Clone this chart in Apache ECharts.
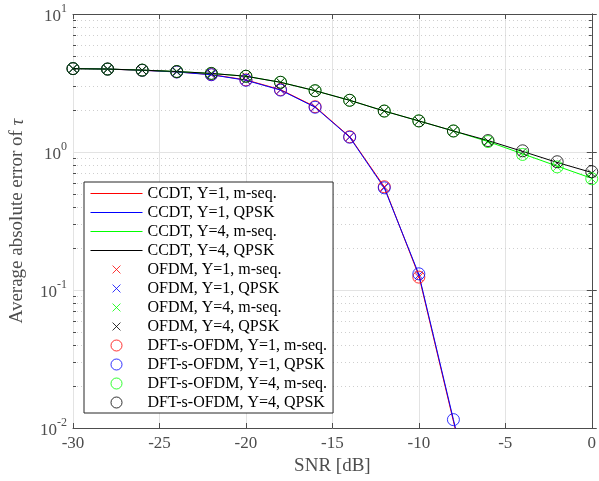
<!DOCTYPE html>
<html>
<head>
<meta charset="utf-8">
<script src="https://cdn.jsdelivr.net/npm/echarts@6/dist/echarts.min.js"></script>
<style>
  html, body { margin: 0; padding: 0; background: #fff; }
  #chart { width: 599px; height: 481px; }
</style>
</head>
<body>
<div id="chart"></div>
<script>
  // SNR points (dB)
  var snr = [-30, -28, -26, -24, -22, -20, -18, -16, -14, -12, -10, -8, -6, -4, -2, 0];

  // CCDT curves (lines)
  var ccdtY1Mseq = [4.02, 3.99, 3.91, 3.81, 3.64, 3.33, 2.83, 2.13, 1.29, 0.56, 0.127, 0.0112, 0.001, null, null, null];
  var ccdtY1Qpsk = [4.02, 3.99, 3.91, 3.80, 3.63, 3.31, 2.81, 2.11, 1.28, 0.55, 0.130, 0.0115, 0.001, null, null, null];
  var ccdtY4Mseq = [4.02, 3.99, 3.92, 3.83, 3.71, 3.54, 3.20, 2.78, 2.37, 1.98, 1.68, 1.42, 1.19, 0.97, 0.79, 0.645];
  var ccdtY4Qpsk = [4.02, 3.99, 3.92, 3.83, 3.71, 3.54, 3.20, 2.78, 2.37, 1.98, 1.68, 1.42, 1.21, 1.01, 0.84, 0.71];

  // OFDM (x markers)
  var ofdmY1Mseq = [4.02, 3.99, 3.91, 3.81, 3.64, 3.33, 2.83, 2.13, 1.29, 0.56, 0.124, null, null, null, null, null];
  var ofdmY1Qpsk = [4.02, 3.99, 3.91, 3.80, 3.63, 3.31, 2.81, 2.11, 1.28, 0.55, 0.128, null, null, null, null, null];
  var ofdmY4Mseq = [4.02, 3.99, 3.92, 3.83, 3.71, 3.54, 3.20, 2.78, 2.37, 1.98, 1.68, 1.42, 1.18, 0.95, 0.78, 0.64];
  var ofdmY4Qpsk = [4.02, 3.99, 3.92, 3.83, 3.71, 3.54, 3.20, 2.78, 2.37, 1.98, 1.68, 1.42, 1.20, 1.00, 0.83, 0.70];

  // DFT-s-OFDM (circle markers)
  var dftY1Mseq = [4.02, 3.99, 3.91, 3.81, 3.64, 3.33, 2.83, 2.13, 1.29, 0.56, 0.124, null, null, null, null, null];
  var dftY1Qpsk = [4.02, 3.99, 3.91, 3.80, 3.63, 3.31, 2.81, 2.11, 1.28, 0.55, 0.131, 0.0115, null, null, null, null];
  var dftY4Mseq = [4.02, 3.99, 3.92, 3.83, 3.71, 3.54, 3.20, 2.78, 2.37, 1.98, 1.68, 1.42, 1.19, 0.96, 0.78, 0.64];
  var dftY4Qpsk = [4.02, 3.99, 3.92, 3.83, 3.71, 3.54, 3.20, 2.78, 2.37, 1.98, 1.68, 1.42, 1.21, 1.02, 0.85, 0.72];

  var legendNames = [
    'CCDT, Y=1, m-seq.', 'CCDT, Y=1, QPSK', 'CCDT, Y=4, m-seq.', 'CCDT, Y=4, QPSK',
    'OFDM, Y=1, m-seq.', 'OFDM, Y=1, QPSK', 'OFDM, Y=4, m-seq.', 'OFDM, Y=4, QPSK',
    'DFT-s-OFDM, Y=1, m-seq.', 'DFT-s-OFDM, Y=1, QPSK', 'DFT-s-OFDM, Y=4, m-seq.', 'DFT-s-OFDM, Y=4, QPSK'
  ];
  var colors = ['#ff0000', '#0000ff', '#00ff00', '#000000'];

  // log minor grid values (2..9 per decade)
  var decades = [0.01, 0.1, 1];
  var minorMult = [2, 3, 4, 5, 6, 7, 8, 9];
  var minorTicks = [];
  decades.forEach(function (d) {
    minorMult.forEach(function (m) { minorTicks.push(+(d * m).toPrecision(3)); });
  });

  var FONT = 'Liberation Serif';
  var AXIS_COLOR = '#4d4d4d';
  var CROSS = 'path://M-2,-2L-2,-2M0,0L10,10M10,0L0,10M12,12L12,12';

  function pairs(arr) {
    return snr.map(function (x, i) { return [x, arr[i]]; });
  }

  function lineSeries(name, arr, c) {
    return {
      name: name, type: 'line', data: pairs(arr), color: c,
      symbol: 'none', showSymbol: false, connectNulls: false, clip: true,
      lineStyle: { color: c, width: 1 },
      // keep the legend icon a bare line
      itemStyle: { color: 'rgba(0,0,0,0)', borderColor: 'rgba(0,0,0,0)', borderWidth: 0 },
      z: 3, animation: false
    };
  }

  function markSeries(name, arr, c, sym, size) {
    return {
      name: name, type: 'scatter', data: pairs(arr).filter(function (p) { return p[1] != null; }),
      symbol: sym, symbolSize: size, clip: true,
      itemStyle: { color: 'none', borderColor: c, borderWidth: 1 }, z: 4, animation: false
    };
  }

  var series = [
    lineSeries(legendNames[0], ccdtY1Mseq, colors[0]),
    lineSeries(legendNames[1], ccdtY1Qpsk, colors[1]),
    lineSeries(legendNames[2], ccdtY4Mseq, colors[2]),
    lineSeries(legendNames[3], ccdtY4Qpsk, colors[3]),
    markSeries(legendNames[4], ofdmY1Mseq, colors[0], CROSS, 11),
    markSeries(legendNames[5], ofdmY1Qpsk, colors[1], CROSS, 11),
    markSeries(legendNames[6], ofdmY4Mseq, colors[2], CROSS, 11),
    markSeries(legendNames[7], ofdmY4Qpsk, colors[3], CROSS, 11),
    markSeries(legendNames[8], dftY1Mseq, colors[0], 'circle', 12),
    markSeries(legendNames[9], dftY1Qpsk, colors[1], 'circle', 12),
    markSeries(legendNames[10], dftY4Mseq, colors[2], 'circle', 12),
    markSeries(legendNames[11], dftY4Qpsk, colors[3], 'circle', 12)
  ];

  // dotted minor grid + small minor ticks on both y sides
  series.push({
    type: 'custom', silent: true, z: 1, animation: false,
    data: minorTicks.map(function (v) { return [-30, v]; }),
    renderItem: function (params, api) {
      var cs = params.coordSys;
      var y = Math.round(api.coord([-30, api.value(1)])[1]) + 0.5;
      return {
        type: 'group',
        children: [
          { type: 'line', shape: { x1: cs.x, y1: y, x2: cs.x + cs.width, y2: y },
            style: { stroke: '#cfcfcf', lineWidth: 1, lineDash: [1, 3] } },
          { type: 'line', shape: { x1: cs.x, y1: y, x2: cs.x + 3, y2: y },
            style: { stroke: AXIS_COLOR, lineWidth: 1 } },
          { type: 'line', shape: { x1: cs.x + cs.width - 3, y1: y, x2: cs.x + cs.width, y2: y },
            style: { stroke: AXIS_COLOR, lineWidth: 1 } }
        ]
      };
    }
  });

  var option = {
    backgroundColor: '#ffffff',
    animation: false,
    textStyle: { fontFamily: FONT },
    grid: { left: 70, right: 2, top: 14, bottom: 53 },
    legend: {
      data: legendNames,
      orient: 'vertical',
      left: 84, top: 182,
      padding: [3.5, 6, 2.5, 6],
      itemWidth: 52, itemHeight: 11, itemGap: 3,
      backgroundColor: '#ffffff',
      borderColor: '#262626', borderWidth: 1,
      itemStyle: { borderWidth: 1 },
      lineStyle: { width: 1 },
      textStyle: { fontFamily: FONT, fontSize: 16, color: '#000' },
      selectedMode: false
    },
    xAxis: [{
      type: 'value', min: -30, max: 0, interval: 5,
      name: 'SNR [dB]', nameLocation: 'middle', nameGap: 28,
      nameTextStyle: { fontFamily: FONT, fontSize: 19, color: AXIS_COLOR },
      axisLine: { show: true, lineStyle: { color: AXIS_COLOR } },
      axisTick: { inside: true, length: 5, lineStyle: { color: AXIS_COLOR } },
      axisLabel: { fontFamily: FONT, fontSize: 17, color: AXIS_COLOR, margin: 7 },
      splitLine: { show: true, lineStyle: { color: '#e3e3e3' } }
    }, {
      type: 'value', min: -30, max: 0, interval: 5, position: 'top',
      axisLine: { show: true, lineStyle: { color: AXIS_COLOR } },
      axisTick: { inside: true, length: 5, lineStyle: { color: AXIS_COLOR } },
      axisLabel: { show: false }, splitLine: { show: false }
    }],
    yAxis: [{
      type: 'log', logBase: 10, min: 0.01, max: 10,
      name: 'Average absolute error of {i|τ}', nameLocation: 'middle', nameGap: 46,
      nameTextStyle: {
        fontFamily: FONT, fontSize: 19, color: AXIS_COLOR,
        rich: { i: { fontFamily: FONT, fontSize: 19, fontStyle: 'italic', color: AXIS_COLOR } }
      },
      axisLine: { show: true, lineStyle: { color: AXIS_COLOR } },
      axisTick: { inside: true, length: 5, lineStyle: { color: AXIS_COLOR } },
      axisLabel: {
        margin: 6,
        formatter: function (v) {
          var e = Math.round(Math.log10(v));
          return '{b|10}{s|' + e + '}';
        },
        rich: {
          b: { fontFamily: FONT, fontSize: 17, color: AXIS_COLOR, lineHeight: 22, verticalAlign: 'bottom' },
          s: { fontFamily: FONT, fontSize: 12, color: AXIS_COLOR, lineHeight: 12, verticalAlign: 'top' }
        }
      },
      splitLine: { show: true, lineStyle: { color: '#e3e3e3' } }
    }, {
      type: 'log', logBase: 10, min: 0.01, max: 10, position: 'right',
      axisLine: { show: true, lineStyle: { color: AXIS_COLOR } },
      axisTick: { inside: true, length: 5, lineStyle: { color: AXIS_COLOR } },
      axisLabel: { show: false }, splitLine: { show: false }
    }],
    series: series
  };

  var myChart = echarts.init(document.getElementById('chart'));
  myChart.setOption(option);
  window.addEventListener('resize', function () { myChart.resize(); });
</script>
</body>
</html>
